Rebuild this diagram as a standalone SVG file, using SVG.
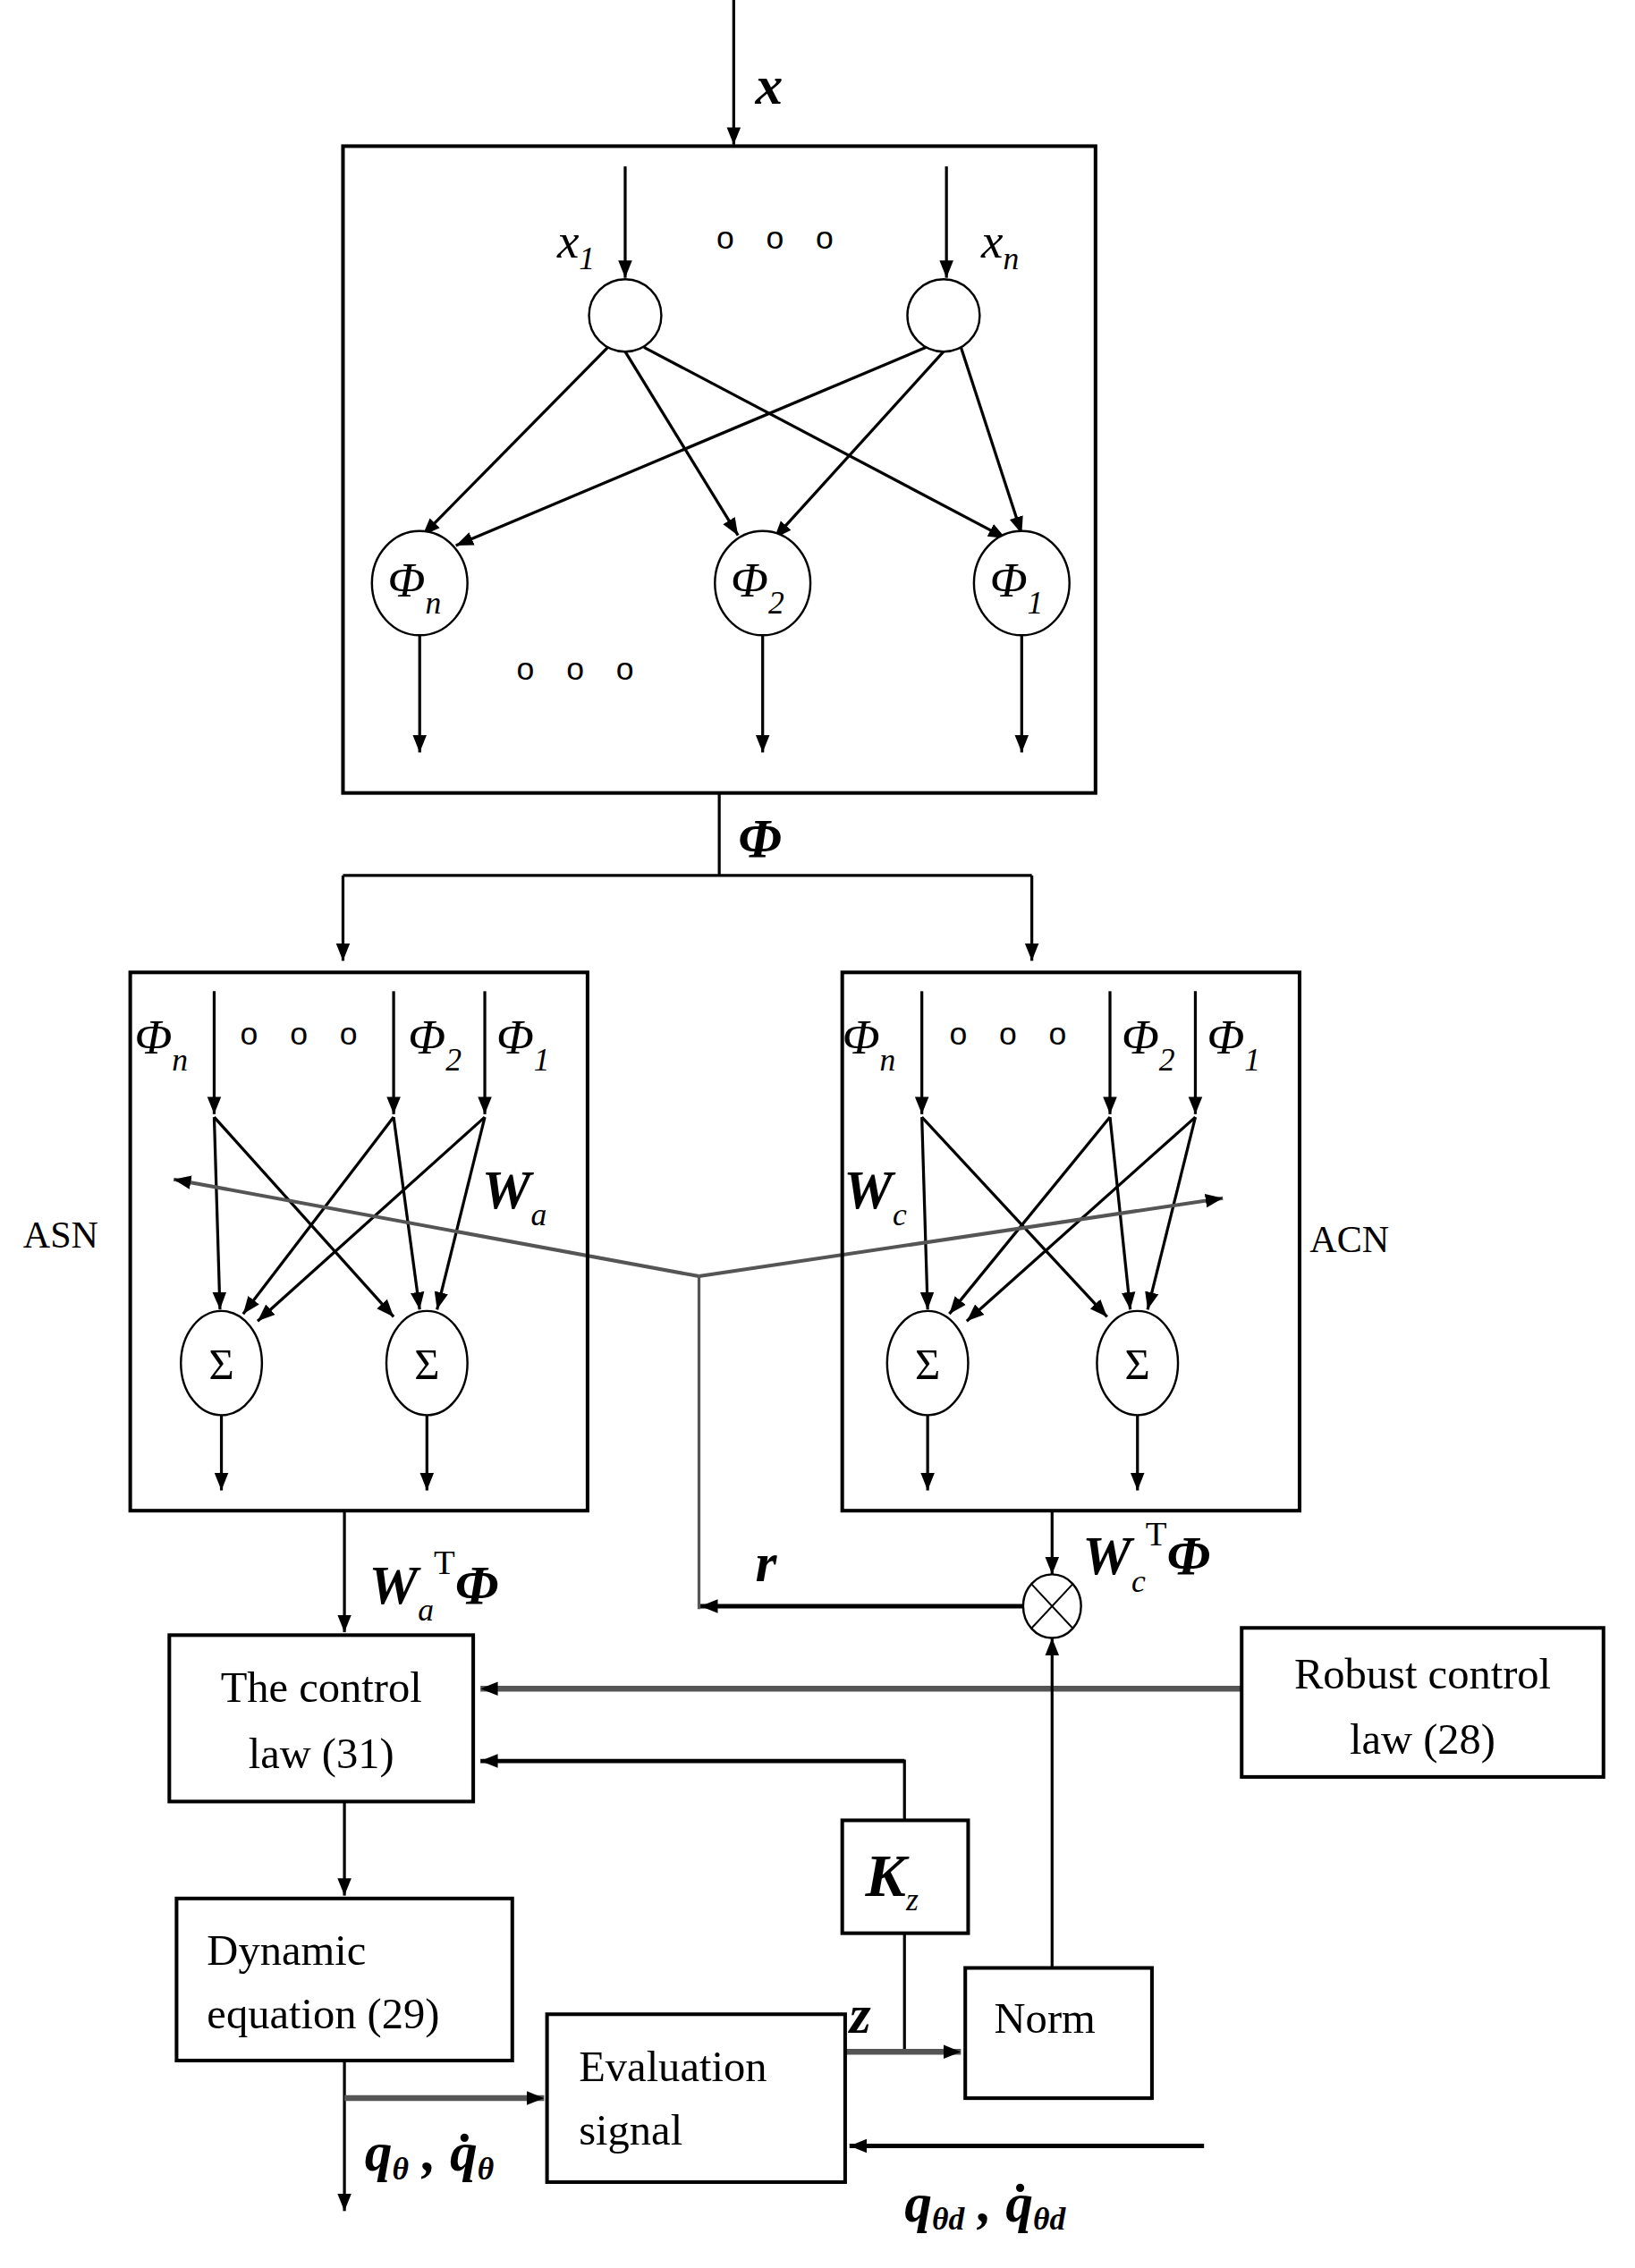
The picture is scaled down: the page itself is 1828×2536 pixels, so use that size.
<svg xmlns="http://www.w3.org/2000/svg" width="1828" height="2536" viewBox="0 0 1828 2536">
<style>
.l{stroke:#000;stroke-width:2;fill:none}
.g{stroke:#555;stroke-width:4;fill:none}
.b{stroke:#000;stroke-width:2.5;fill:#fff}
.c{stroke:#000;stroke-width:1.5;fill:#fff}
.t{font-family:"Liberation Serif",serif;font-size:30px;fill:#000}
.i{font-family:"Liberation Serif",serif;font-style:italic;font-size:34px;fill:#000}
.bi{font-family:"Liberation Serif",serif;font-style:italic;font-weight:bold;font-size:38px;fill:#000}
.s{font-size:22px}
.d{font-family:"Liberation Sans",sans-serif;font-size:22px;fill:#000;letter-spacing:8px}
</style>
<defs>
<marker id="a" viewBox="0 0 10 10" refX="10" refY="5" markerWidth="12" markerHeight="12" markerUnits="userSpaceOnUse" orient="auto"><path d="M0,1 L10,5 L0,9 Z" fill="#000"/></marker>
</defs>
<rect width="1828" height="2536" fill="#fff"/>
<g transform="scale(1.618)">
<g id="connectors">
<line class="l" x1="507" y1="0" x2="507" y2="100" marker-end="url(#a)"/>
<line class="l" x1="432" y1="115" x2="432" y2="192" marker-end="url(#a)"/>
<line class="l" x1="654" y1="115" x2="654" y2="192" marker-end="url(#a)"/>
<line class="l" x1="420" y1="240" x2="292" y2="370" marker-end="url(#a)"/>
<line class="l" x1="432" y1="243" x2="510" y2="370" marker-end="url(#a)"/>
<line class="l" x1="445" y1="240" x2="695" y2="372" marker-end="url(#a)"/>
<line class="l" x1="640" y1="240" x2="315" y2="377" marker-end="url(#a)"/>
<line class="l" x1="652" y1="243" x2="535" y2="372" marker-end="url(#a)"/>
<line class="l" x1="664" y1="240" x2="706" y2="369" marker-end="url(#a)"/>
<line class="l" x1="290" y1="436" x2="290" y2="520" marker-end="url(#a)"/>
<line class="l" x1="527" y1="436" x2="527" y2="520" marker-end="url(#a)"/>
<line class="l" x1="706" y1="436" x2="706" y2="520" marker-end="url(#a)"/>
<polyline class="l" points="497,548 497,605"/>
<polyline class="l" points="237,605 713,605"/>
<line class="l" x1="237" y1="605" x2="237" y2="664" marker-end="url(#a)"/>
<line class="l" x1="713" y1="605" x2="713" y2="664" marker-end="url(#a)"/>
<!-- ASN internals -->
<line class="l" x1="148" y1="685" x2="148" y2="770" marker-end="url(#a)"/>
<line class="l" x1="272" y1="685" x2="272" y2="770" marker-end="url(#a)"/>
<line class="l" x1="335" y1="685" x2="335" y2="770" marker-end="url(#a)"/>
<line class="l" x1="148" y1="772" x2="152" y2="905" marker-end="url(#a)"/>
<line class="l" x1="148" y1="772" x2="272" y2="910" marker-end="url(#a)"/>
<line class="l" x1="272" y1="772" x2="168" y2="908" marker-end="url(#a)"/>
<line class="l" x1="272" y1="772" x2="290" y2="905" marker-end="url(#a)"/>
<line class="l" x1="335" y1="772" x2="178" y2="913" marker-end="url(#a)"/>
<line class="l" x1="335" y1="772" x2="302" y2="905" marker-end="url(#a)"/>
<line class="l" x1="153" y1="978" x2="153" y2="1030" marker-end="url(#a)"/>
<line class="l" x1="295" y1="978" x2="295" y2="1030" marker-end="url(#a)"/>
<!-- ACN internals -->
<line class="l" x1="637" y1="685" x2="637" y2="770" marker-end="url(#a)"/>
<line class="l" x1="767" y1="685" x2="767" y2="770" marker-end="url(#a)"/>
<line class="l" x1="826" y1="685" x2="826" y2="770" marker-end="url(#a)"/>
<line class="l" x1="637" y1="772" x2="641" y2="905" marker-end="url(#a)"/>
<line class="l" x1="637" y1="772" x2="765" y2="910" marker-end="url(#a)"/>
<line class="l" x1="767" y1="772" x2="656" y2="908" marker-end="url(#a)"/>
<line class="l" x1="767" y1="772" x2="781" y2="905" marker-end="url(#a)"/>
<line class="l" x1="826" y1="772" x2="668" y2="913" marker-end="url(#a)"/>
<line class="l" x1="826" y1="772" x2="793" y2="905" marker-end="url(#a)"/>
<line class="l" x1="641" y1="978" x2="641" y2="1030" marker-end="url(#a)"/>
<line class="l" x1="786" y1="978" x2="786" y2="1030" marker-end="url(#a)"/>
<!-- r feedback -->
<line class="g" style="stroke-width:2.5" x1="483" y1="882" x2="120" y2="815" marker-end="url(#a)"/>
<line class="g" style="stroke-width:2.5" x1="483" y1="882" x2="845" y2="828" marker-end="url(#a)"/>
<line class="l" style="stroke:#555" x1="483" y1="882" x2="483" y2="1112"/>
<line class="l" style="stroke-width:3" x1="707" y1="1110" x2="484" y2="1110" marker-end="url(#a)"/>
<line class="l" x1="238" y1="1044" x2="238" y2="1128" marker-end="url(#a)"/>
<line class="l" x1="727" y1="1044" x2="727" y2="1088" marker-end="url(#a)"/>
<line class="g" x1="858" y1="1167" x2="332" y2="1167" marker-end="url(#a)"/>
<polyline class="l" points="625,1258 625,1217 400,1217"/>
<line class="l" style="stroke-width:3" x1="625" y1="1217" x2="332" y2="1217" marker-end="url(#a)"/>
<line class="l" x1="727" y1="1360" x2="727" y2="1132" marker-end="url(#a)"/>
<line class="l" x1="238" y1="1245" x2="238" y2="1310" marker-end="url(#a)"/>
<polyline class="l" points="625,1336 625,1418"/>
<line class="g" x1="584" y1="1418" x2="664" y2="1418" marker-end="url(#a)"/>
<line class="l" x1="238" y1="1424" x2="238" y2="1528" marker-end="url(#a)"/>
<line class="g" x1="238" y1="1450" x2="376" y2="1450" marker-end="url(#a)"/>
<line class="l" style="stroke-width:3" x1="832" y1="1483" x2="587" y2="1483" marker-end="url(#a)"/>
</g>
<g id="rbfn">
<rect class="b" x="237" y="101" width="520" height="447" fill="none" style="fill:none"/>
<circle class="c" cx="432" cy="218" r="25"/>
<circle class="c" cx="652" cy="218" r="25"/>
<text class="i" x="385" y="178">x<tspan class="s" dy="8">1</tspan></text>
<text class="i" x="678" y="178">x<tspan class="s" dy="8">n</tspan></text>
<text class="d" x="495" y="172">o o o</text>
<ellipse class="c" cx="290" cy="403" rx="33" ry="36"/>
<ellipse class="c" cx="527" cy="403" rx="33" ry="36"/>
<ellipse class="c" cx="706" cy="403" rx="33" ry="36"/>
<text class="i" x="268" y="412">Φ<tspan class="s" dy="12">n</tspan></text>
<text class="i" x="505" y="412">Φ<tspan class="s" dy="12">2</tspan></text>
<text class="i" x="684" y="412">Φ<tspan class="s" dy="12">1</tspan></text>
<text class="d" x="357" y="470">o o o</text>
</g>
<g id="labels">
<text class="bi" x="522" y="72">x</text>
<text class="bi" x="510" y="592">Φ</text>
<text class="bi" x="522" y="1093">r</text>
<text class="bi" x="255" y="1108">W<tspan class="s" style="font-weight:normal" dy="12">a</tspan><tspan style="font-weight:normal;font-style:normal;font-size:24px" dy="-32">T</tspan><tspan dy="20">Φ</tspan></text>
<text class="bi" x="748" y="1088">W<tspan class="s" style="font-weight:normal" dy="12">c</tspan><tspan style="font-weight:normal;font-style:normal;font-size:24px" dy="-32">T</tspan><tspan dy="20">Φ</tspan></text>
<text class="bi" x="587" y="1405">z</text>
<text class="bi" x="252" y="1500">q<tspan class="s" dy="6">θ</tspan><tspan dy="-6"> , q̇</tspan><tspan class="s" dy="6">θ</tspan></text>
<text class="bi" x="625" y="1535">q<tspan class="s" dy="6">θd</tspan><tspan dy="-6"> , q̇</tspan><tspan class="s" dy="6">θd</tspan></text>
</g>
<g id="asn">
<rect class="b" x="90" y="672" width="316" height="372" style="fill:none"/>
<text class="t" x="16" y="862" style="font-size:26px">ASN</text>
<text class="i" x="93" y="728">Φ<tspan class="s" dy="12">n</tspan></text>
<text class="d" x="166" y="722">o o o</text>
<text class="i" x="282" y="728">Φ<tspan class="s" dy="12">2</tspan></text>
<text class="i" x="343" y="728">Φ<tspan class="s" dy="12">1</tspan></text>
<text class="bi" x="333" y="835">W<tspan class="s" style="font-weight:normal" dy="12">a</tspan></text>
<ellipse class="c" cx="153" cy="942" rx="28" ry="36"/>
<ellipse class="c" cx="295" cy="942" rx="28" ry="36"/>
<text class="t" x="153" y="953" text-anchor="middle">Σ</text>
<text class="t" x="295" y="953" text-anchor="middle">Σ</text>
</g>
<g id="acn">
<rect class="b" x="582" y="672" width="316" height="372" style="fill:none"/>
<text class="t" x="905" y="865" style="font-size:26px">ACN</text>
<text class="i" x="582" y="728">Φ<tspan class="s" dy="12">n</tspan></text>
<text class="d" x="656" y="722">o o o</text>
<text class="i" x="775" y="728">Φ<tspan class="s" dy="12">2</tspan></text>
<text class="i" x="834" y="728">Φ<tspan class="s" dy="12">1</tspan></text>
<text class="bi" x="583" y="835">W<tspan class="s" style="font-weight:normal" dy="12">c</tspan></text>
<ellipse class="c" cx="641" cy="942" rx="28" ry="36"/>
<ellipse class="c" cx="786" cy="942" rx="28" ry="36"/>
<text class="t" x="641" y="953" text-anchor="middle">Σ</text>
<text class="t" x="786" y="953" text-anchor="middle">Σ</text>
</g>
<g id="mult">
<ellipse class="c" cx="727" cy="1110" rx="20" ry="22"/>
<line class="l" style="stroke-width:1.2" x1="713" y1="1095" x2="741" y2="1125"/>
<line class="l" style="stroke-width:1.2" x1="741" y1="1095" x2="713" y2="1125"/>
</g>
<g id="controllaw"><rect class="b" x="117" y="1130" width="210" height="115"/><text class="t" x="222" y="1176" text-anchor="middle">The control</text><text class="t" x="222" y="1222" text-anchor="middle">law (31)</text></g>
<g id="robust"><rect class="b" x="858" y="1125" width="250" height="103"/><text class="t" x="983" y="1167" text-anchor="middle">Robust control</text><text class="t" x="983" y="1212" text-anchor="middle">law (28)</text></g>
<g id="kz"><rect class="b" x="582" y="1258" width="87" height="78"/><text class="bi" x="598" y="1310" style="font-size:42px">K<tspan class="s" style="font-weight:normal" dy="10">z</tspan></text></g>
<g id="dynamic"><rect class="b" x="122" y="1312" width="232" height="112"/><text class="t" x="143" y="1358">Dynamic</text><text class="t" x="143" y="1402">equation (29)</text></g>
<g id="evaluation"><rect class="b" x="378" y="1392" width="206" height="116"/><text class="t" x="400" y="1438">Evaluation</text><text class="t" x="400" y="1482">signal</text></g>
<g id="norm"><rect class="b" x="667" y="1360" width="129" height="90"/><text class="t" x="687" y="1405">Norm</text></g>
</g>
</svg>
